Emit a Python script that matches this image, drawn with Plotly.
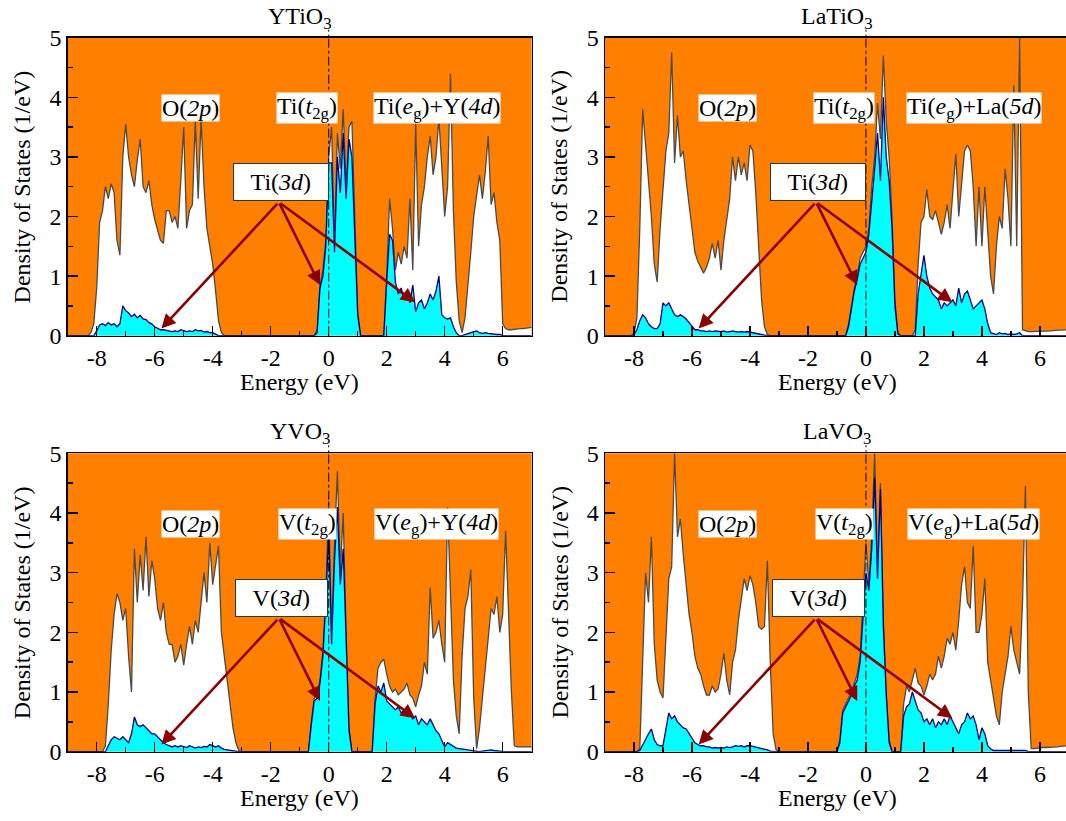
import plotly.graph_objects as go

# ---------------- data (DOS, 0.1 eV grid from -9 to 7 eV) ----------------
energy = [round(-9 + 0.1 * i, 1) for i in range(161)]
Z10 = [0.0] * 10

ytio3_total = (
    [0, 0, 0, 0, 0, 0, 0, 0, 0.05, 0.2] +                      # -9.0 .. -8.1
    [0.8, 1.9, 2.1, 2.5, 2.3, 2.55, 2.4, 1.6, 1.35, 3.0] +      # -8.0 .. -7.1
    [3.55, 3.0, 2.7, 2.5, 2.95, 3.3, 2.5, 2.4, 2.6, 2.2] +      # -7.0 .. -6.1
    [1.95, 1.75, 1.6, 1.55, 2.1, 2.1, 1.9, 2.0, 1.8, 2.6] +     # -6.0 .. -5.1
    [3.5, 1.8, 2.1, 2.2, 3.6, 2.3, 3.65, 2.5, 1.8, 1.5] +       # -5.0 .. -4.1
    [1.2, 0.75, 0.25, 0.05, 0, 0, 0, 0, 0, 0] +                 # -4.0 .. -3.1
    Z10 + Z10 +                                                 # -3.0 .. -1.1
    [0, 0, 0, 0, 0, 0, 0.1, 0.85, 1.1, 1.6] +                   # -1.0 .. -0.1
    [3.0, 3.5, 1.5, 3.4, 2.8, 3.8, 2.5, 3.5, 3.6, 2.0] +        #  0.0 .. 0.9
    [0.4, 0, 0, 0, 0, 0, 0, 0, 0, 0] +                          #  1.0 .. 1.9
    [1.0, 2.3, 1.8, 1.1, 1.4, 1.2, 1.5, 1.3, 2.3, 1.1] +        #  2.0 .. 2.9
    [3.55, 1.5, 2.2, 2.5, 3.0, 3.35, 2.7, 3.0, 3.65, 2.8] +     #  3.0 .. 3.9
    [2.0, 2.5, 4.4, 2.1, 0.9, 0.25, 0.05, 0.3, 0.8, 1.4] +      #  4.0 .. 4.9
    [2.0, 2.4, 2.7, 2.3, 2.75, 3.35, 2.2, 2.4, 1.9, 1.6] +      #  5.0 .. 5.9
    [0.2, 0.12, 0.1, 0.1, 0.11, 0.11, 0.12, 0.12, 0.13, 0.13] + #  6.0 .. 6.9
    [0.14]                                                      #  7.0
)
ytio3_ti3d = (
    Z10 +
    [0.08, 0.18, 0.2, 0.17, 0.22, 0.18, 0.2, 0.15, 0.2, 0.5] +
    [0.42, 0.38, 0.32, 0.36, 0.3, 0.34, 0.28, 0.27, 0.22, 0.2] +
    [0.15, 0.13, 0.1, 0.1, 0.09, 0.08, 0.07, 0.08, 0.07, 0.1] +
    [0.08, 0.07, 0.08, 0.07, 0.1, 0.08, 0.09, 0.06, 0.07, 0.05] +
    [0.05, 0.02, 0, 0, 0, 0, 0, 0, 0, 0] +
    Z10 + Z10 +
    [0, 0, 0, 0, 0, 0, 0.05, 0.8, 1.0, 1.5] +
    [2.9, 2.9, 1.4, 3.0, 2.4, 3.4, 2.3, 3.3, 3.0, 1.8] +
    [0.35, 0, 0, 0, 0, 0, 0, 0, 0, 0] +
    [0.9, 1.7, 1.6, 0.9, 0.7, 0.8, 0.6, 0.75, 0.55, 0.85] +
    [0.4, 0.55, 0.6, 0.45, 0.55, 0.7, 0.6, 0.75, 1.0, 0.35] +
    [0.3, 0.28, 0.3, 0.15, 0.05, 0, 0, 0.02, 0.03, 0.05] +
    [0.07, 0.08, 0.05, 0.04, 0.05, 0.04, 0.03, 0.03, 0.02, 0.02] +
    Z10 + [0]
)

latio3_total = (
    Z10 +
    [0.03, 0.3, 1.8, 3.8, 3.2, 2.6, 2.0, 1.2, 0.9, 1.8] +
    [2.4, 3.1, 3.4, 4.75, 2.9, 3.7, 3.0, 3.1, 2.6, 2.2] +
    [1.8, 1.4, 1.25, 1.15, 1.05, 1.15, 1.3, 1.55, 1.3, 1.6] +
    [1.1, 1.6, 2.0, 2.3, 3.0, 2.6, 3.0, 2.7, 2.9, 2.6] +
    [3.2, 3.1, 2.4, 1.5, 0.6, 0.15, 0.02, 0, 0, 0] +
    Z10 + Z10 +
    [0, 0, 0, 0, 0.2, 0.5, 0.8, 1.0, 1.3, 1.4] +
    [1.5, 1.8, 2.5, 3.0, 3.9, 3.3, 4.7, 3.6, 3.0, 2.0] +
    [0.6, 0.05, 0, 0, 0, 0, 0, 0.1, 1.2, 1.9] +
    [2.0, 2.45, 2.0, 1.95, 2.1, 1.9, 1.7, 1.9, 2.2, 1.8] +
    [2.5, 3.05, 2.0, 2.5, 3.1, 3.2, 3.1, 2.5, 1.5, 2.5] +
    [1.5, 2.5, 1.8, 1.0, 0.7, 1.5, 2.0, 1.8, 2.8, 2.3] +
    [1.5, 4.2, 1.5, 5.0, 0.1, 0.08, 0.07, 0.07, 0.07, 0.07] +
    [0.07, 0.08, 0.08, 0.08, 0.08, 0.09, 0.09, 0.09, 0.1, 0.1] +
    [0.1]
)
latio3_ti3d = (
    Z10 +
    [0.02, 0.1, 0.25, 0.35, 0.3, 0.2, 0.15, 0.12, 0.12, 0.2] +
    [0.55, 0.5, 0.55, 0.45, 0.35, 0.32, 0.35, 0.32, 0.28, 0.22] +
    [0.15, 0.1, 0.1, 0.08, 0.08, 0.07, 0.08, 0.07, 0.08, 0.07] +
    [0.07, 0.08, 0.06, 0.07, 0.08, 0.07, 0.06, 0.07, 0.06, 0.07] +
    [0.06, 0.05, 0.04, 0.03, 0.02, 0, 0, 0, 0, 0] +
    Z10 + Z10 +
    [0, 0, 0, 0, 0.15, 0.45, 0.75, 0.95, 1.2, 1.3] +
    [1.4, 1.7, 2.2, 2.8, 3.4, 2.6, 4.0, 3.0, 2.6, 1.8] +
    [0.5, 0.03, 0, 0, 0, 0, 0, 0, 0.7, 1.0] +
    [1.35, 1.0, 0.8, 0.7, 0.65, 0.6, 0.45, 0.55, 0.5, 0.55] +
    [0.6, 0.5, 0.8, 0.55, 0.7, 0.75, 0.6, 0.45, 0.5, 0.55] +
    [0.6, 0.45, 0.2, 0.05, 0.03, 0.02, 0.05, 0.03, 0.04, 0.02] +
    [0.03, 0.02, 0.03, 0.05, 0, 0, 0, 0, 0, 0] +
    Z10 + [0]
)

yvo3_total = (
    Z10 +
    [0, 0, 0, 0.1, 0.8, 1.7, 2.3, 2.65, 2.5, 2.2] +
    [2.4, 1.6, 1.0, 3.4, 2.5, 3.3, 2.7, 3.6, 2.6, 3.2] +
    [2.9, 2.4, 2.2, 2.5, 2.0, 1.8, 1.8, 1.5, 1.6, 1.8] +
    [1.45, 1.8, 2.1, 1.8, 2.2, 2.0, 2.5, 3.0, 2.5, 3.5] +
    [2.8, 3.1, 3.45, 2.0, 1.6, 1.2, 0.8, 0.4, 0.15, 0.02] +
    Z10 + Z10 +
    [0, 0, 0, 0, 0.5, 0.9, 0.95, 1.2, 1.7, 2.6] +
    [4.2, 1.9, 3.5, 4.7, 3.0, 4.0, 2.0, 0.4, 0, 0] +
    [0, 0, 0, 0, 0, 0, 0.9, 1.4, 1.5, 1.55] +
    [1.3, 1.1, 1.0, 1.05, 0.95, 1.0, 1.05, 1.15, 0.95, 0.9] +
    [0.75, 0.95, 1.1, 1.5, 1.3, 2.75, 1.9, 2.0, 2.2, 1.8] +
    [1.5, 4.1, 2.5, 1.2, 0.6, 0.3, 1.6, 2.4, 2.6, 3.05] +
    [0.9, 0.05, 0.4, 0.9, 1.5, 2.0, 2.4, 2.3, 2.6, 2.0] +
    [2.3, 3.7, 2.2, 1.0, 0.1, 0.08, 0.08, 0.08, 0.08, 0.08] +
    [0.08]
)
yvo3_v3d = (
    Z10 +
    [0, 0, 0, 0, 0.1, 0.2, 0.25, 0.22, 0.2, 0.25] +
    [0.2, 0.15, 0.3, 0.58, 0.45, 0.42, 0.45, 0.4, 0.35, 0.3] +
    [0.3, 0.25, 0.2, 0.15, 0.12, 0.1, 0.08, 0.1, 0.08, 0.1] +
    [0.08, 0.07, 0.1, 0.08, 0.06, 0.08, 0.07, 0.09, 0.08, 0.12] +
    [0.1, 0.08, 0.1, 0.06, 0.04, 0.03, 0.02, 0.01, 0, 0] +
    Z10 + Z10 +
    [0, 0, 0, 0, 0.45, 0.85, 0.9, 1.15, 1.6, 2.5] +
    [3.7, 1.8, 3.2, 4.1, 2.8, 3.4, 1.9, 0.35, 0, 0] +
    [0, 0, 0, 0, 0, 0, 0.8, 1.1, 1.0, 1.15] +
    [0.85, 0.8, 0.75, 0.7, 0.75, 0.65, 0.7, 0.6, 0.65, 0.55] +
    [0.6, 0.45, 0.55, 0.5, 0.45, 0.55, 0.45, 0.35, 0.3, 0.2] +
    [0.08, 0.15, 0.12, 0.08, 0.06, 0.05, 0.05, 0.04, 0.03, 0.02] +
    [0.01, 0, 0, 0.01, 0.02, 0.02, 0.03, 0.02, 0.02, 0.01] +
    Z10 + [0]
)

lavo3_total = (
    Z10 +
    [0, 0, 0.05, 1.5, 3.0, 2.5, 3.6, 1.8, 1.2, 1.0] +
    [0.9, 1.9, 2.9, 3.1, 5.0, 3.6, 3.9, 3.3, 2.8, 2.3] +
    [2.0, 1.6, 1.4, 1.3, 1.1, 0.95, 0.95, 1.1, 1.0, 1.05] +
    [1.3, 1.65, 1.2, 0.95, 1.5, 1.7, 2.2, 2.6, 2.9, 2.7] +
    [2.95, 2.8, 2.5, 2.1, 2.05, 2.1, 3.2, 1.5, 0.3, 0.03] +
    Z10 + Z10 +
    [0, 0.2, 0.7, 0.8, 0.9, 1.0, 1.15, 1.3, 1.6, 2.5] +
    [3.5, 2.8, 3.6, 5.0, 3.0, 4.5, 2.2, 1.0, 0.2, 0] +
    [0, 0, 0, 0.8, 1.1, 1.0, 1.2, 1.4, 1.15, 1.1] +
    [0.95, 1.1, 1.3, 1.2, 1.3, 1.6, 1.4, 1.6, 1.9, 1.8] +
    [2.0, 1.7, 2.2, 2.8, 3.1, 2.5, 2.4, 3.45, 2.0, 2.0] +
    [2.3, 2.9, 1.5, 1.2, 0.9, 0.6, 0.45, 1.0, 1.3, 1.6] +
    [2.1, 1.7, 1.5, 1.3, 2.5, 4.45, 1.0, 0.05, 0.05, 0.06] +
    [0.06, 0.07, 0.07, 0.07, 0.08, 0.08, 0.08, 0.09, 0.09, 0.1] +
    [0.1]
)
lavo3_v3d = (
    Z10 +
    [0, 0, 0.02, 0.12, 0.2, 0.3, 0.38, 0.2, 0.12, 0.1] +
    [0.1, 0.4, 0.65, 0.55, 0.6, 0.5, 0.45, 0.4, 0.38, 0.3] +
    [0.22, 0.15, 0.12, 0.1, 0.1, 0.08, 0.08, 0.06, 0.07, 0.06] +
    [0.07, 0.06, 0.08, 0.07, 0.08, 0.1, 0.09, 0.1, 0.08, 0.1] +
    [0.1, 0.09, 0.08, 0.06, 0.05, 0.04, 0.03, 0.01, 0, 0] +
    Z10 + Z10 +
    [0, 0.15, 0.65, 0.75, 0.85, 0.95, 1.1, 1.2, 1.5, 2.3] +
    [3.0, 2.7, 3.4, 4.6, 2.9, 4.4, 2.1, 0.95, 0.15, 0] +
    [0, 0, 0, 0.6, 0.75, 0.8, 1.0, 0.85, 0.7, 0.65] +
    [0.5, 0.55, 0.45, 0.55, 0.4, 0.5, 0.45, 0.55, 0.45, 0.6] +
    [0.5, 0.4, 0.3, 0.45, 0.5, 0.65, 0.55, 0.6, 0.45, 0.2] +
    [0.4, 0.3, 0.1, 0.05, 0.02, 0.02, 0.02, 0.02, 0.02, 0.02] +
    [0.02, 0.02, 0.02, 0.02, 0.02, 0.02, 0, 0, 0, 0] +
    Z10 + [0]
)

x_tick_vals = [-8, -6, -4, -2, 0, 2, 4, 6]
x_tick_text = ["-8", "-6", "-4", "-2", "0", "2", "4", "6"]
x_minor_vals = [-9, -7, -5, -3, -1, 1, 3, 5, 7]
y_tick_vals = [0, 1, 2, 3, 4, 5]
y_tick_text = ["0", "1", "2", "3", "4", "5"]
y_minor_vals = [0.5, 1.5, 2.5, 3.5, 4.5]

panels = [
    dict(title="YTiO<sub>3</sub>", total=ytio3_total, part=ytio3_ti3d, metal="Ti", a="Y(<i>4d</i>)",
         xd=[67.7, 531.7], yd=[37.7, 335.7], xr=[-9, 7]),
    dict(title="LaTiO<sub>3</sub>", total=latio3_total, part=latio3_ti3d, metal="Ti", a="La(<i>5d</i>)",
         xd=[605, 1066], yd=[37.7, 335.7], xr=[-9, 6.9]),
    dict(title="YVO<sub>3</sub>", total=yvo3_total, part=yvo3_v3d, metal="V", a="Y(<i>4d</i>)",
         xd=[67.7, 531.7], yd=[453.3, 751.7], xr=[-9, 7]),
    dict(title="LaVO<sub>3</sub>", total=lavo3_total, part=lavo3_v3d, metal="V", a="La(<i>5d</i>)",
         xd=[605, 1066], yd=[453.3, 751.7], xr=[-9, 6.9]),
]

W, H = 1066, 821
FONT = "Liberation Serif"
FS = 24

fig = go.Figure()
layout_axes = {}
annotations = []
shapes = []

for i, p in enumerate(panels):
    n = "" if i == 0 else str(i + 1)
    xa, ya = "x" + n, "y" + n
    fig.add_trace(go.Scatter(x=energy, y=p["total"], xaxis=xa, yaxis=ya, mode="lines",
                             line=dict(color="#4a4a4a", width=1.3), fill="tozeroy",
                             fillcolor="white", showlegend=False, hoverinfo="skip"))
    fig.add_trace(go.Scatter(x=energy, y=p["part"], xaxis=xa, yaxis=ya, mode="lines",
                             line=dict(color="#000080", width=1.3), fill="tozeroy",
                             fillcolor="#00FFFF", showlegend=False, hoverinfo="skip"))
    xdom = [p["xd"][0] / W, p["xd"][1] / W]
    ydom = [1 - p["yd"][1] / H, 1 - p["yd"][0] / H]
    layout_axes["xaxis" + n] = dict(
        domain=xdom, range=p["xr"], anchor=ya, showgrid=False, zeroline=False,
        showline=True, linecolor="black", linewidth=1.5, mirror=True,
        tickmode="array", tickvals=x_tick_vals, ticktext=x_tick_text,
        ticks="inside", ticklen=10, tickwidth=1.5, tickcolor="black",
        minor=dict(tickmode="array", tickvals=x_minor_vals, ticks="inside",
                   ticklen=5, tickwidth=1.5, tickcolor="black"),
        tickfont=dict(family=FONT, size=FS, color="black"))
    layout_axes["yaxis" + n] = dict(
        domain=ydom, range=[0, 5], anchor=xa, showgrid=False, zeroline=False,
        showline=True, linecolor="black", linewidth=1.5, mirror=True,
        tickmode="array", tickvals=y_tick_vals, ticktext=y_tick_text,
        ticks="inside", ticklen=10, tickwidth=1.5, tickcolor="black",
        minor=dict(tickmode="array", tickvals=y_minor_vals, ticks="inside",
                   ticklen=5, tickwidth=1.5, tickcolor="black"),
        tickfont=dict(family=FONT, size=FS, color="black"))

    xc = (p["xd"][0] + 8 * 29) / W
    ytop, ybot = 1 - p["yd"][0] / H, 1 - p["yd"][1] / H
    # panel title
    annotations.append(dict(text=p["title"], x=xc, y=ytop + 20 / H, xref="paper", yref="paper",
                            xanchor="center", yanchor="middle", showarrow=False,
                            font=dict(family=FONT, size=FS, color="black")))
    # axis titles
    annotations.append(dict(text="Energy (eV)", x=xc, y=ybot - 46 / H, xref="paper", yref="paper",
                            xanchor="center", yanchor="middle", showarrow=False,
                            font=dict(family=FONT, size=FS, color="black")))
    annotations.append(dict(text="Density of States (1/eV)", x=(p["xd"][0] - 46) / W,
                            y=(ytop + ybot) / 2, xref="paper", yref="paper", textangle=-90,
                            xanchor="center", yanchor="middle", showarrow=False,
                            font=dict(family=FONT, size=FS, color="black")))
    # band labels
    m = p["metal"]
    for txt, ex in [("O(<i>2p</i>)", -4.77),
                    (m + "(<i>t</i><sub>2g</sub>)", -0.74),
                    (m + "(<i>e</i><sub>g</sub>)+" + p["a"], 3.72)]:
        annotations.append(dict(text=txt, x=ex, y=3.82, xref=xa, yref=ya, showarrow=False,
                                xanchor="center", yanchor="middle", bgcolor="white", borderpad=0,
                                font=dict(family=FONT, size=FS, color="black")))
    # arrows from the 3d label
    tail = (-1.72, 2.24)
    for hx, hy in [(-5.77, 0.12), (-0.3, 0.85), (2.98, 0.56)]:
        annotations.append(dict(text="", x=hx, y=hy, ax=tail[0], ay=tail[1], xref=xa, yref=ya,
                                axref=xa, ayref=ya, showarrow=True, arrowhead=2, arrowsize=1.1,
                                arrowwidth=2.6, arrowcolor="#8B0000", standoff=0, startstandoff=0))
    annotations.append(dict(text="  " + m + "(<i>3d</i>)  ", x=-1.64, y=2.58, xref=xa, yref=ya,
                            showarrow=False, xanchor="center", yanchor="middle",
                            bgcolor="white", bordercolor="#333333", borderwidth=1, borderpad=5,
                            font=dict(family=FONT, size=FS, color="black")))
    # Fermi level (runs slightly above the frame, as in the original)
    shapes.append(dict(type="line", x0=0, x1=0, y0=0, y1=5, xref=xa, yref=ya,
                       line=dict(color="black", width=1, dash="dashdot"), layer="above"))
    xz = (p["xd"][0] + 9 * 29) / W
    shapes.append(dict(type="line", x0=xz, x1=xz, y0=ytop, y1=ytop + 8 / H, xref="paper",
                       yref="paper", line=dict(color="black", width=1, dash="dot"), layer="above"))

fig.update_layout(
    width=W, height=H, autosize=False,
    margin=dict(l=0, r=0, t=0, b=0, autoexpand=False),
    paper_bgcolor="white", plot_bgcolor="#FF8000",
    font=dict(family=FONT, size=FS, color="black"),
    annotations=annotations, shapes=shapes, showlegend=False,
    **layout_axes,
)

fig.write_html("out.html", config={"displayModeBar": False, "staticPlot": True},
               post_script="document.body.style.margin='0px';")
